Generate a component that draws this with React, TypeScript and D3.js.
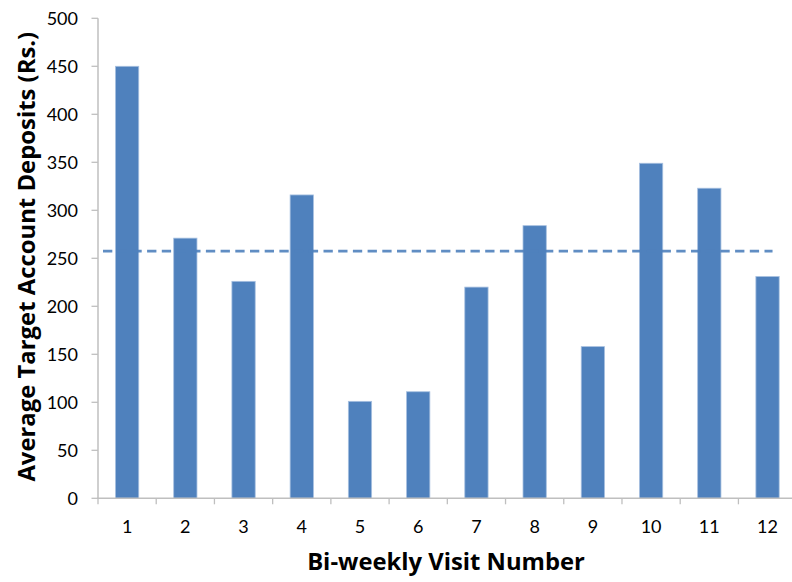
import React, { useLayoutEffect, useRef, useState } from "react";
import * as d3 from "d3";

const categories: string[] = ["1", "2", "3", "4", "5", "6", "7", "8", "9", "10", "11", "12"];
const deposits: number[] = [450, 271, 226, 316, 101, 111, 220, 284, 158, 349, 323, 231];
const averageValue: number = 257.5;
const yTicks: number[] = [0, 50, 100, 150, 200, 250, 300, 350, 400, 450, 500];
const xTitle = "Bi-weekly Visit Number";
const yTitle = "Average Target Account Deposits (Rs.)";

const W = 792;
const H = 582;
const FONT = "Lato, 'Open Sans', sans-serif";
const TITLE_FONT = "'Open Sans', Lato, sans-serif";
const BAR = "#4F81BD";
const AXIS = "#BFBFBF";

export default function App() {
  const xTitleRef = useRef<SVGTextElement>(null);
  const yTitleRef = useRef<SVGTextElement>(null);
  const [xts, setXts] = useState(22);
  const [yts, setYts] = useState(22);

  useLayoutEffect(() => {
    if (xTitleRef.current) {
      const w = xTitleRef.current.getComputedTextLength();
      if (w > 0) setXts((22 * 278) / w);
    }
    if (yTitleRef.current) {
      const w = yTitleRef.current.getComputedTextLength();
      if (w > 0) setYts((22 * 450) / w);
    }
  }, []);

  const left = 98;
  const step = 58.22;
  const x = d3
    .scaleBand<string>()
    .domain(categories)
    .range([left, left + step * categories.length])
    .paddingInner(0.6)
    .paddingOuter(0.3);
  const y = d3.scaleLinear().domain([0, 500]).range([498.3, 18.3]);

  const bw = x.bandwidth();
  const y0 = y(0);
  const avgY = y(averageValue);
  const lineStart = left + 5;
  const lineEnd = (x("12") as number) + bw / 2 + 5;

  return (
    <svg
      width={W}
      height={H}
      style={{ position: "absolute", left: 0, top: 0, background: "#fff" }}
      fontFamily={FONT}
    >
      <rect x={0} y={0} width={W} height={H} fill="#fff" />
      {categories.map((c, i) => (
        <rect
          key={c}
          x={x(c) as number}
          y={y(deposits[i])}
          width={bw}
          height={y0 - y(deposits[i])}
          fill={BAR}
          stroke="#A7C0E0"
          strokeWidth={0.8}
        />
      ))}
      <line
        x1={lineStart}
        x2={lineEnd}
        y1={avgY}
        y2={avgY}
        stroke={BAR}
        strokeWidth={2.6}
        strokeDasharray="9.3,5.4"
        opacity={0.9}
      />
      <line x1={left} x2={left} y1={y(500)} y2={y0} stroke={AXIS} strokeWidth={1.5} />
      {yTicks.map((t) => (
        <g key={t}>
          <line x1={left - 6.5} x2={left} y1={y(t)} y2={y(t)} stroke={AXIS} strokeWidth={1.3} />
          <text x={78} y={y(t)} dy="0.36em" textAnchor="end" fontSize={18} fill="#000">
            {t}
          </text>
        </g>
      ))}
      <line x1={left - 1} x2={W} y1={y0} y2={y0} stroke={AXIS} strokeWidth={1.5} />
      {categories.map((c, i) => (
        <line
          key={"t" + c}
          x1={left + step * i}
          x2={left + step * i}
          y1={y0}
          y2={y0 + 6}
          stroke={AXIS}
          strokeWidth={1.3}
        />
      ))}
      {categories.map((c) => (
        <text
          key={"l" + c}
          x={(x(c) as number) + bw / 2}
          y={533.3}
          textAnchor="middle"
          fontSize={18}
          fill="#000"
        >
          {c}
        </text>
      ))}
      <text
        ref={xTitleRef}
        x={446}
        y={570}
        textAnchor="middle"
        fontFamily={TITLE_FONT}
        fontSize={xts}
        fontWeight="bold"
        fill="#000"
      >
        {xTitle}
      </text>
      <text
        ref={yTitleRef}
        transform={`translate(35, 256.7) rotate(-90)`}
        textAnchor="middle"
        fontFamily={TITLE_FONT}
        fontSize={yts}
        fontWeight="bold"
        fill="#000"
      >
        {yTitle}
      </text>
    </svg>
  );
}
